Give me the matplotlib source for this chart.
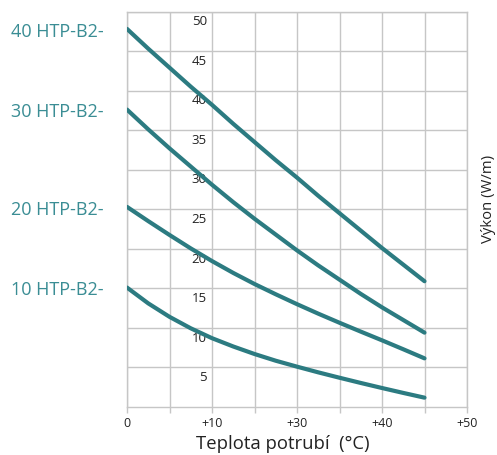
import matplotlib
matplotlib.use("Agg")
import matplotlib.pyplot as plt

# x positions in grid units (each grid cell = one tick step)
x_pos = [0, 0.5, 1, 1.5, 2, 2.5, 3, 3.5, 4, 4.5, 5, 5.5, 6, 6.5, 7]
series_names = ["40 HTP-B2-", "30 HTP-B2-", "20 HTP-B2-", "10 HTP-B2-"]
s40 = [47.8, 45.3, 42.9, 40.5, 38.2, 35.8, 33.5, 31.2, 29.0, 26.7, 24.5, 22.3, 20.1, 18.0, 15.9]
s30 = [37.6, 35.1, 32.7, 30.4, 28.1, 25.9, 23.8, 21.8, 19.8, 17.9, 16.1, 14.3, 12.6, 11.0, 9.4]
s20 = [25.3, 23.5, 21.75, 20.05, 18.45, 16.95, 15.55, 14.25, 13.0, 11.8, 10.65, 9.53, 8.43, 7.3, 6.15]
s10 = [15.1, 13.1, 11.4, 9.95, 8.7, 7.65, 6.7, 5.85, 5.1, 4.38, 3.7, 3.04, 2.4, 1.78, 1.18]
x_tick_pos = [0, 2, 4, 6, 8]
x_tick_labels = ["0", "+10", "+30", "+40", "+50"]
y_tick_vals = [5, 10, 15, 20, 25, 30, 35, 40, 45, 50]

plt.rcParams['font.family'] = ['Open Sans', 'DejaVu Sans']
fig = plt.figure(figsize=(4.97, 4.55), dpi=100)
ax = fig.add_axes([127/497, 48/455, 340/497, 395.5/455])
ax.set_xlim(0, 8)
ax.set_ylim(0, 50)

grid_c = "#c6c6c6"
for xv in range(0, 9):
    ax.axvline(xv, color=grid_c, lw=1.0, zorder=1)
for yv in range(5, 51, 5):
    ax.axhline(yv, color=grid_c, lw=1.0, zorder=1)
for sp in ax.spines.values():
    sp.set_color(grid_c)
    sp.set_linewidth(1.0)

ax.set_xticks(range(0, 9))
ax.set_xticklabels([""] * 9)
ax.tick_params(axis='x', length=4, color=grid_c, width=1)
ax.set_yticks([])
for p, lab in zip(x_tick_pos, x_tick_labels):
    ax.text(p, -1.3, lab, ha='center', va='top', fontsize=9, color="#222222")

for v in y_tick_vals:
    ax.text(1.88, v - 1.3, str(v), ha='right', va='center', fontsize=9.5,
            color="#222222", zorder=2)

line_c = "#2c7b81"
for name, s in zip(series_names, [s40, s30, s20, s10]):
    ax.plot(x_pos, s, color=line_c, lw=3.0, solid_capstyle='round',
            solid_joinstyle='round', zorder=3)
    ax.text(-0.55, s[0] - 0.35, name, ha='right', va='center', fontsize=13,
            color="#3a8d94", clip_on=False)

fig.text(283/497, 1 - 444/455, "Teplota potrubí  (°C)", ha='center', va='center',
         fontsize=13.3, color="#222222")
fig.text(488/497, 1 - 199/455, "Výkon (W/m)", ha='center', va='center',
         fontsize=10.7, color="#222222", rotation=90)

fig.savefig("out.png", dpi=100)
